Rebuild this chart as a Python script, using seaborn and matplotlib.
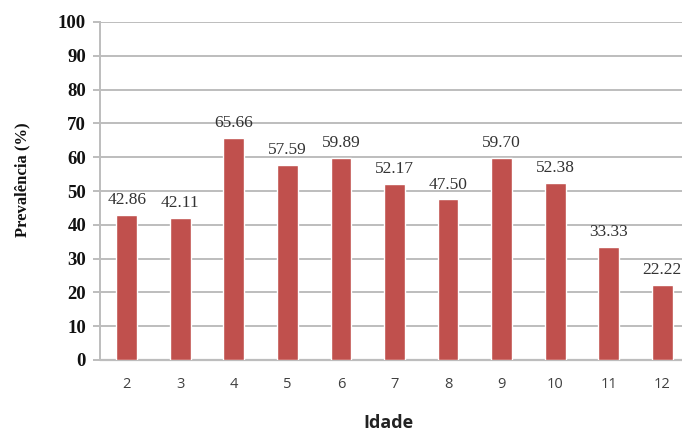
import matplotlib
matplotlib.use("Agg")
import matplotlib.pyplot as plt
import seaborn as sns
import pandas as pd

# Prevalence by age
idades = ["2", "3", "4", "5", "6", "7", "8", "9", "10", "11", "12"]
prevalencia = [42.86, 42.11, 65.66, 57.59, 59.89, 52.17, 47.50, 59.70, 52.38, 33.33, 22.22]

df = pd.DataFrame({"Idade": idades, "Prevalencia": prevalencia})

sns.set_theme(style="white")
plt.rcParams["font.family"] = ["Liberation Serif", "DejaVu Serif"]

fig = plt.figure(figsize=(6.82, 4.32), dpi=100)
ax = fig.add_axes([100 / 682, 72 / 432, 589 / 682, 338 / 432])

bar_color = "#C0504D"
grid_color = "#BDBDBD"

sns.barplot(data=df, x="Idade", y="Prevalencia", color=bar_color,
            width=0.39, saturation=1, ax=ax, zorder=3)

ax.set_ylim(0, 100)
ax.set_yticks(range(0, 101, 10))
ax.yaxis.grid(True, color=grid_color, linewidth=1.4, zorder=0)
ax.set_axisbelow(True)

for side in ("top", "right", "bottom"):
    ax.spines[side].set_visible(False)
ax.spines["left"].set_color(grid_color)
ax.spines["left"].set_linewidth(1.4)
ax.axhline(0, color=grid_color, linewidth=1.6, zorder=2, clip_on=False)

ax.tick_params(axis="y", which="both", left=True, length=5, width=1.4,
               color=grid_color, pad=5)
ax.tick_params(axis="x", bottom=False, pad=6)

for lbl in ax.get_yticklabels():
    lbl.set_fontfamily(["Liberation Serif"])
    lbl.set_fontweight("bold")
    lbl.set_fontsize(13.5)
    lbl.set_color("#111111")
for lbl in ax.get_xticklabels():
    lbl.set_fontfamily(["Open Sans", "DejaVu Sans"])
    lbl.set_fontsize(10.5)
    lbl.set_color("#404040")

# value labels above each bar
for i, v in enumerate(prevalencia):
    ax.annotate(f"{v:.2f}", xy=(i, v), xytext=(0, 5), textcoords="offset points",
                ha="center", va="bottom", fontsize=12.5, color="#333333",
                family=["Liberation Serif"])

ax.set_ylabel("")
ax.set_xlabel("")
fig.text(22 / 682, 1 - 180 / 432, "Prevalência (%)", rotation=90,
         ha="center", va="center", fontsize=12, fontweight="bold",
         family=["Liberation Serif"], color="#111111")
fig.text(388 / 682, 1 - 423 / 432, "Idade", ha="center", va="center",
         fontsize=13, fontweight="bold", family=["Open Sans", "DejaVu Sans"],
         color="#222222")

fig.savefig("out.png", dpi=100)
